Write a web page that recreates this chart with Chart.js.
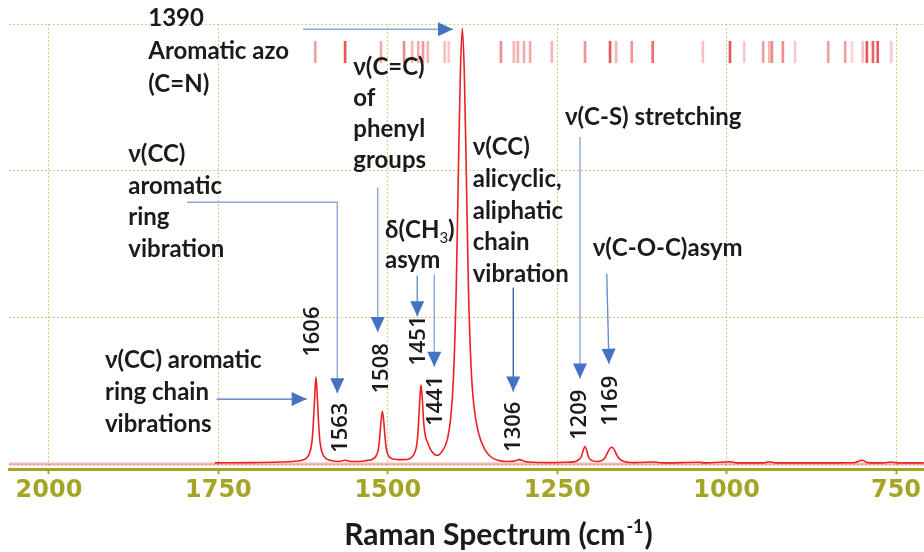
<!DOCTYPE html>
<html>
<head>
<meta charset="utf-8">
<script src="https://cdn.jsdelivr.net/npm/chart.js@4.4.1/dist/chart.umd.min.js"></script>
<style>
  html, body { margin: 0; padding: 0; background: #fff; }
  #wrap { width: 924px; height: 552px; }
</style>
</head>
<body>
<div id="wrap"><canvas id="raman" width="924" height="552"></canvas></div>
<script>
// measured spectrum: Raman shift (cm-1) against relative intensity
const ramanShift = [
  1755, 1700, 1660, 1640, 1628, 1620, 1615, 1612, 1610, 1608,
  1606, 1604, 1602, 1600, 1597, 1592, 1584, 1572, 1563, 1555,
  1542, 1530, 1524, 1518, 1514, 1512, 1510, 1508, 1506, 1504,
  1502, 1498, 1492, 1483, 1475, 1466, 1460, 1457, 1455, 1453,
  1451, 1449, 1447, 1444, 1441, 1437, 1432, 1428, 1424, 1418,
  1412, 1407, 1403, 1399, 1396, 1393, 1390, 1387, 1384, 1381,
  1377, 1373, 1366, 1357, 1348, 1339, 1325, 1314, 1306, 1298,
  1285, 1260, 1240, 1225, 1218, 1214, 1211.5, 1209, 1206.5, 1204,
  1199, 1192, 1185, 1180, 1176, 1172, 1169, 1166, 1162, 1157,
  1150, 1135, 1106, 1095, 1041, 1030, 995, 985, 945, 937,
  928, 850, 812, 800, 792, 770, 757, 748, 709
];
const intensity = [
  0.008, 0.010, 0.014, 0.018, 0.025, 0.040, 0.080, 0.150, 0.270, 0.450,
  0.595, 0.450, 0.270, 0.150, 0.080, 0.040, 0.025, 0.018, 0.026, 0.018,
  0.018, 0.025, 0.030, 0.050, 0.100, 0.180, 0.290, 0.360, 0.290, 0.180,
  0.100, 0.050, 0.035, 0.030, 0.030, 0.040, 0.080, 0.140, 0.250, 0.420,
  0.540, 0.440, 0.280, 0.180, 0.145, 0.100, 0.070, 0.060, 0.065, 0.100,
  0.170, 0.320, 0.600, 1.200, 1.950, 2.650, 2.970, 2.650, 1.950, 1.200,
  0.650, 0.400, 0.210, 0.100, 0.050, 0.028, 0.018, 0.020, 0.030, 0.018,
  0.012, 0.010, 0.012, 0.015, 0.030, 0.055, 0.095, 0.120, 0.095, 0.050,
  0.025, 0.018, 0.022, 0.040, 0.075, 0.108, 0.115, 0.100, 0.060, 0.030,
  0.016, 0.010, 0.014, 0.008, 0.012, 0.008, 0.016, 0.008, 0.008, 0.016,
  0.008, 0.008, 0.009, 0.026, 0.010, 0.008, 0.014, 0.008, 0.008
];

// library match lines (barcode strip) and how strongly each one matches
const refLines = [
  1607, 1563, 1510, 1476, 1464, 1455, 1448, 1441, 1416, 1410,
  1333, 1314, 1308, 1299, 1290, 1258, 1209, 1172, 1163, 1140,
  1109, 1035, 995, 974, 946, 937, 933, 917, 899, 850,
  825, 815, 799, 793, 784, 777, 757
];
const refWeight = [
  0.45, 0.8, 0.4, 0.55, 0.35, 0.4, 0.5, 0.35, 0.3, 0.25,
  0.55, 0.35, 0.4, 0.4, 0.4, 0.35, 0.5, 0.8, 0.35, 0.5,
  0.7, 0.3, 0.8, 0.25, 0.45, 0.35, 0.55, 0.55, 0.25, 0.45,
  0.45, 0.2, 0.3, 0.8, 0.75, 0.8, 0.25
];

// peak positions written next to the spectrum
const peakLabels = [1606, 1563, 1508, 1451, 1441, 1306, 1209, 1169];

const xTicks = [750, 1000, 1250, 1500, 1750, 2000];
const yGrid = [0, 1, 2, 3];

// ---- layout (data coordinates) ----
const X_MIN = 708.7, X_MAX = 2059;
const Y_MIN = -0.035, Y_MAX = 3;
const STRIP = [2.737, 2.882];

const OLIVE = '#a4a526';
const GRID = 'rgba(176,186,70,0.65)';
const INK = '#1b1b1b';
const TEXT_FONT = 'Lato, "Open Sans", sans-serif';

// where each peak number sits (rotated, text starts at this point)
const peakTagAt = [
  [1612.3, 0.731], [1570.5, 0.076], [1510.5, 0.481], [1455.4, 0.670],
  [1430.3, 0.259], [1315.2, 0.083], [1217.8, 0.164], [1172.1, 0.259]
];

// band assignments; '_' marks a subscript run
const notes = [
  { lines: ['1390', 'Aromatic azo', '(C=N)'], at: [1853.5, 2.987], lead: 33 },
  { lines: ['ν(CC)', 'aromatic', 'ring', 'vibration'], at: [1883, 2.059], lead: 31.7 },
  { lines: ['ν(CC) aromatic', 'ring chain', 'vibrations'], at: [1917.4, 0.652], lead: 31.7 },
  { lines: ['ν(C=C)', 'of', 'phenyl', 'groups'], at: [1550.9, 2.649], lead: 30.7 },
  { lines: ['δ(CH_3_)', 'asym'], at: [1504.1, 1.542], lead: 30 },
  { lines: ['ν(CC)', 'alicyclic,', 'aliphatic', 'chain', 'vibration'], at: [1374.7, 2.104], lead: 31.6 },
  { lines: ['ν(C-S) stretching'], at: [1238.5, 2.311], lead: 0 },
  { lines: ['ν(C-O-C)asym'], at: [1197.6, 1.420], lead: 0 }
];

const arrows = [
  { path: [[1625.2, 2.964], [1403.8, 2.964]], color: '#8ea7d6' },
  { path: [[1796.3, 1.785], [1574.5, 1.785], [1574.5, 0.483]], color: '#8ea7d6' },
  { path: [[1514.9, 1.886], [1514.9, 0.900]], color: '#8ea7d6' },
  { path: [[1456.5, 1.285], [1456.5, 1.008]], color: '#6d8ccc' },
  { path: [[1431.4, 1.292], [1431.4, 0.664]], color: '#8ea7d6' },
  { path: [[1314.8, 1.204], [1314.8, 0.495]], color: '#3e5e9c' },
  { path: [[1216.4, 2.230], [1216.4, 0.583]], color: '#8ea7d6' },
  { path: [[1176.9, 1.298], [1173.6, 0.684]], color: '#6d8ccc' },
  { path: [[1752.5, 0.443], [1619.7, 0.443]], color: '#4a6fb5' }
];

function drawRich(ctx, text, x, y, size) {
  // plain text with _sub_ runs
  const parts = text.split('_');
  let cx = x;
  parts.forEach((p, i) => {
    if (!p) return;
    const sub = i % 2 === 1;
    ctx.font = (sub ? '400 ' + Math.round(size * 0.62) : '700 ' + size) + 'px ' + TEXT_FONT;
    ctx.fillText(p, cx, sub ? y + size * 0.22 : y);
    cx += ctx.measureText(p).width;
  });
}

function arrowHead(ctx, x0, y0, x1, y1) {
  const a = Math.atan2(y1 - y0, x1 - x0);
  const len = 15, half = 7;
  ctx.beginPath();
  ctx.moveTo(x1, y1);
  ctx.lineTo(x1 - len * Math.cos(a) + half * Math.sin(a), y1 - len * Math.sin(a) - half * Math.cos(a));
  ctx.lineTo(x1 - len * Math.cos(a) - half * Math.sin(a), y1 - len * Math.sin(a) + half * Math.cos(a));
  ctx.closePath();
  ctx.fill();
}

const annotate = {
  id: 'annotate',
  afterDatasetsDraw(chart) {
    const { ctx, scales: { x, y } } = chart;
    ctx.save();

    // arrows
    arrows.forEach(a => {
      const pts = a.path.map(p => [x.getPixelForValue(p[0]), y.getPixelForValue(p[1])]);
      ctx.strokeStyle = a.color;
      ctx.lineWidth = 1.4;
      ctx.beginPath();
      pts.forEach((p, i) => (i ? ctx.lineTo(p[0], p[1]) : ctx.moveTo(p[0], p[1])));
      ctx.stroke();
      const n = pts.length;
      ctx.fillStyle = '#4472c4';
      arrowHead(ctx, pts[n - 2][0], pts[n - 2][1], pts[n - 1][0], pts[n - 1][1]);
    });

    // notes
    ctx.fillStyle = INK;
    ctx.textAlign = 'left';
    ctx.textBaseline = 'alphabetic';
    notes.forEach(nt => {
      const px = x.getPixelForValue(nt.at[0]);
      const py = y.getPixelForValue(nt.at[1]);
      nt.lines.forEach((ln, i) => drawRich(ctx, ln, px, py + i * nt.lead, 24));
    });

    // rotated peak positions
    ctx.font = '600 22px "Open Sans", sans-serif';
    ctx.textBaseline = 'middle';
    peakLabels.forEach((v, i) => {
      const px = x.getPixelForValue(peakTagAt[i][0]);
      const py = y.getPixelForValue(peakTagAt[i][1]);
      ctx.save();
      ctx.translate(px, py);
      ctx.rotate(-Math.PI / 2);
      ctx.fillText(String(v), 0, 1);
      ctx.restore();
    });
    ctx.restore();
  },
  afterDraw(chart) {
    // axis title with superscript unit
    const { ctx } = chart;
    ctx.save();
    ctx.fillStyle = INK;
    ctx.textBaseline = 'alphabetic';
    const main = 'Raman Spectrum (cm', sup = '-1', tail = ')';
    const big = '700 30px ' + TEXT_FONT, small = '700 18px ' + TEXT_FONT;
    ctx.font = big;
    const wMain = ctx.measureText(main).width, wTail = ctx.measureText(tail).width;
    ctx.font = small;
    const wSup = ctx.measureText(sup).width;
    let cx = 497.5 - (wMain + wSup + wTail) / 2;
    const base = 545;
    ctx.font = big;
    ctx.fillText(main, cx, base);
    cx += wMain + 1;
    ctx.font = small;
    ctx.fillText(sup, cx, base - 12);
    cx += wSup + 1;
    ctx.font = big;
    ctx.fillText(tail, cx, base);
    ctx.restore();
  }
};

const spectrum = ramanShift.map((s, i) => ({ x: s, y: intensity[i] }));
const strip = refLines.map(s => ({ x: s, y: STRIP.slice() }));

new Chart(document.getElementById('raman'), {
  type: 'line',
  data: {
    datasets: [
      {
        type: 'bar',
        data: strip,
        backgroundColor: refWeight.map(w => `rgba(225,45,45,${w})`),
        borderWidth: 0,
        barThickness: 2,
        grouped: false,
        order: 3
      },
      {
        data: [{ x: X_MIN, y: 0 }, { x: X_MAX, y: 0 }],
        borderColor: 'rgba(232,100,100,0.45)',
        borderWidth: 3,
        pointRadius: 0,
        order: 2
      },
      {
        data: spectrum,
        borderColor: '#ec2024',
        borderWidth: 1.6,
        pointRadius: 0,
        cubicInterpolationMode: 'monotone',
        order: 1
      }
    ]
  },
  options: {
    responsive: false,
    animation: false,
    devicePixelRatio: 1,
    layout: { padding: { top: 24, left: 9, right: 0, bottom: 45 } },
    plugins: { legend: { display: false }, tooltip: { enabled: false } },
    scales: {
      x: {
        type: 'linear',
        reverse: true,
        min: X_MIN,
        max: X_MAX,
        offset: false,
        afterBuildTicks: axis => { axis.ticks = xTicks.map(v => ({ value: v })); },
        grid: {
          offset: false,
          color: GRID,
          lineWidth: 1,
          tickLength: 5,
          tickColor: OLIVE,
          tickWidth: 2,
          tickBorderDash: []
        },
        border: { display: true, color: OLIVE, width: 3, dash: [2, 2] },
        ticks: {
          color: OLIVE,
          padding: 2,
          maxRotation: 0,
          font: { family: 'DejaVu Sans', size: 24, weight: 'bold' },
          callback: v => String(v)
        }
      },
      y: {
        min: Y_MIN,
        max: Y_MAX,
        afterBuildTicks: axis => { axis.ticks = yGrid.map(v => ({ value: v })); },
        grid: { color: GRID, lineWidth: 1, drawTicks: false },
        border: { display: false, dash: [2, 2] },
        ticks: { display: false }
      }
    }
  },
  plugins: [annotate]
});
</script>
</body>
</html>
